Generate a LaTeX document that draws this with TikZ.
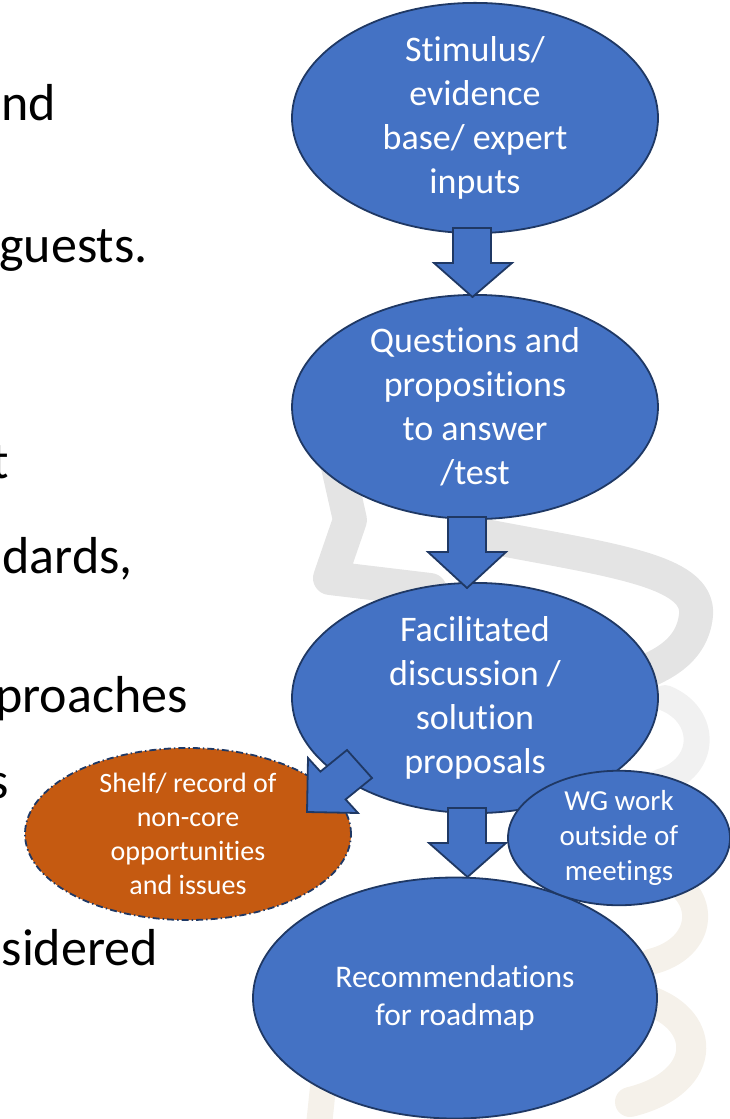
\documentclass[tikz,border=0pt]{standalone}
\usepackage{fontspec}
\setmainfont[Ligatures=NoCommon]{Carlito}
\usetikzlibrary{shapes.geometric}
\definecolor{fillblue}{HTML}{4472C4}
\definecolor{navy}{HTML}{1F3864}
\definecolor{shelforange}{HTML}{C55A11}
\definecolor{wmgrey}{HTML}{E4E4E4}
\definecolor{wmgreyl}{HTML}{F1F1F1}
\definecolor{wmbeige}{HTML}{F5F1EA}
\tikzset{
  bubble/.style={ellipse, fill=fillblue, draw=navy, line width=1.8pt, inner sep=0pt,
    text=white, align=center},
  bigtext/.style={font=\fontsize{36}{44}\selectfont},
  shelfbubble/.style={ellipse, fill=shelforange, draw=navy, line width=1.8pt, inner sep=0pt,
    dash pattern=on 7pt off 3pt on 1.5pt off 3pt, text=white, align=center,
    font=\fontsize{28}{34}\selectfont},
  blockarrow/.style={fill=fillblue, draw=navy, line width=1.8pt, line join=miter},
  lefttext/.style={anchor=base east, inner sep=0pt, font=\fontsize{52}{60}\selectfont},
  watermark/.style={line width=34pt, line cap=round, line join=round}
}
\begin{document}
\begin{tikzpicture}[x=1pt,y=-1pt]
\useasboundingbox (0,0) rectangle (730,1119);
% faint watermark in the background
\draw[watermark, wmgrey] (332,440) -- (350,520) -- (330,578) -- (430,590);
\draw[watermark, wmgrey] (480,535) .. controls (610,560) and (700,570) .. (696,615) .. controls (692,655) and (655,668) .. (630,678);
\draw[watermark, wmgreyl, line width=26pt] (665,698) .. controls (708,715) and (708,768) .. (660,782);
\draw[watermark, wmbeige, line width=26pt] (662,875) .. controls (708,892) and (708,948) .. (650,962);
\draw[watermark, wmbeige, line width=30pt] (640,998) .. controls (708,1015) and (712,1082) .. (630,1102);
\draw[watermark, wmbeige, line width=26pt] (318,1135) -- (325,1068);

% left-hand text, cut off at the page edge
\node[lefttext] (l1) at (56,120) {nd};
\node[lefttext] (l2) at (148,262) {guests.};
\node[lefttext] (l3) at (9,478) {t};
\node[lefttext] (l4) at (133,573) {dards,};
\node[lefttext] (l5) at (188,712) {proaches};
\node[lefttext] (l6) at (9,798) {s};
\node[lefttext] (l7) at (158,965) {sidered};

% ellipses
\node[bubble, bigtext, minimum width=366pt, minimum height=220pt] (stim) at (475,118)
  {Stimulus/\\evidence\\base/ expert\\inputs};
\node[bubble, bigtext, minimum width=366pt, minimum height=220pt] (quest) at (475,407)
  {Questions and\\propositions\\to answer\\/test};
\node[bubble, bigtext, minimum width=366pt, minimum height=220pt] (facil) at (475,698)
  {Facilitated\\discussion /\\solution\\proposals};
\node[shelfbubble, minimum width=326pt, minimum height=161pt] (shelf) at (188,834)
  {Shelf/ record of\\non-core\\opportunities\\and issues};
\node[bubble, font=\fontsize{31.5}{38}\selectfont, minimum width=404pt, minimum height=241pt] (recs) at (455,998)
  {Recommendations\\for roadmap};
\node[bubble, font=\fontsize{29}{35}\selectfont, minimum width=222pt, minimum height=129pt] (wg) at (619,838)
  {WG work\\outside of\\meetings};

% block arrows
\draw[blockarrow] (453,228) -- (491,228) -- (491,263) -- (512,263) -- (472.5,297)
  -- (434,263) -- (453,263) -- cycle;
\draw[blockarrow] (448,517) -- (486,517) -- (486,552) -- (506,552) -- (467,588)
  -- (428,552) -- (448,552) -- cycle;
\draw[blockarrow] (448,808) -- (486,808) -- (486,843) -- (506,843) -- (467.5,877)
  -- (429,843) -- (448,843) -- cycle;
\draw[blockarrow] (347,750) -- (320.4,771.6) -- (308,758) -- (307,812) -- (358,813)
  -- (345.6,799.4) -- (372,778) -- cycle;
\end{tikzpicture}
\end{document}
